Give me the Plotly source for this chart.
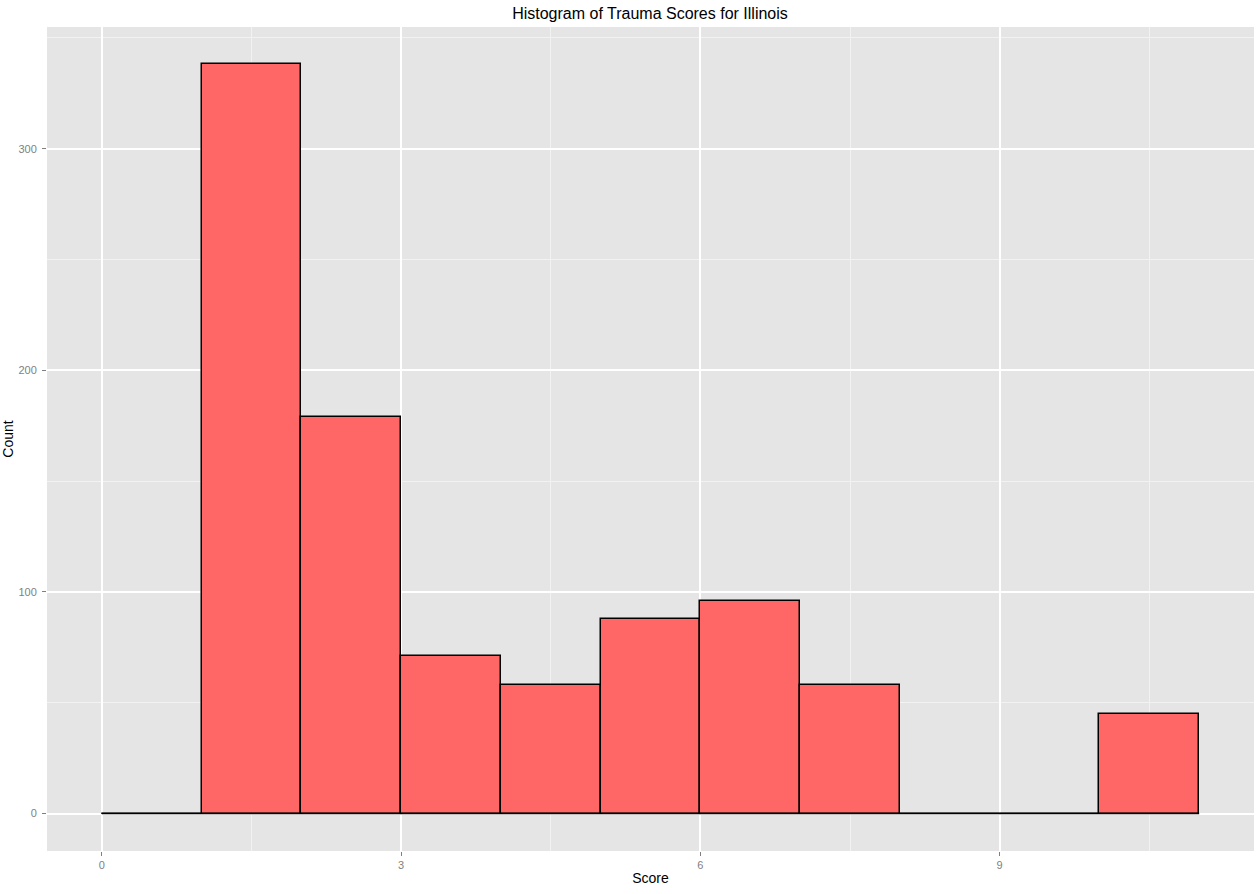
import plotly.graph_objects as go

# histogram bins (width 1) and counts
bin_left = [0, 1, 2, 3, 4, 5, 6, 7, 8, 9, 10]
counts = [0, 338, 179, 71, 58, 88, 96, 58, 0, 0, 45]
bin_width = 1

x_ticks = [0, 3, 6, 9]
y_ticks = [0, 100, 200, 300]

FONT = "Liberation Sans, Arial, sans-serif"
PANEL_BG = "#E5E5E5"
TICK_GREY = "#7F7F7F"

centers = [b + bin_width / 2 for b in bin_left]
x_lo, x_hi = bin_left[0], bin_left[-1] + bin_width
x_pad = 0.05 * (x_hi - x_lo)
y_pad = 0.05 * max(counts)

fig = go.Figure()

fig.add_trace(go.Bar(
    x=centers, y=counts, width=bin_width,
    marker=dict(color="#FF6666", line=dict(color="black", width=1.5)),
    showlegend=False,
))

# ggplot draws empty bins as flat outlines along zero
fig.add_trace(go.Scatter(
    x=[x_lo, x_hi], y=[0, 0], mode="lines",
    line=dict(color="black", width=1.5),
    showlegend=False, hoverinfo="skip",
))

fig.update_layout(
    width=1256, height=894,
    margin=dict(l=47, r=2, t=27, b=43),
    paper_bgcolor="white",
    plot_bgcolor=PANEL_BG,
    font=dict(family=FONT, color="black"),
    title=dict(text="Histogram of Trauma Scores for Illinois", x=0.5175, xanchor="center",
               y=1 - 13 / 894, yanchor="middle", font=dict(size=16, color="black")),
    bargap=0,
)

fig.update_xaxes(
    range=[x_lo - x_pad, x_hi + x_pad],
    tickvals=x_ticks, ticks="outside", ticklen=4, tickcolor=TICK_GREY,
    tickfont=dict(size=11, color=TICK_GREY),
    showgrid=True, gridcolor="white", gridwidth=1.5,
    minor=dict(dtick=1.5, tick0=0, showgrid=True, gridcolor="#F2F2F2", gridwidth=0.8),
    zeroline=False, showline=False, automargin=False,
    title=dict(text="Score", font=dict(size=14, color="black"), standoff=2),
)

fig.update_yaxes(
    range=[-y_pad, max(counts) + y_pad],
    tickvals=y_ticks, ticks="outside", ticklen=4, tickcolor=TICK_GREY,
    tickfont=dict(size=11, color=TICK_GREY), ticklabelstandoff=3,
    showgrid=True, gridcolor="white", gridwidth=1.5,
    minor=dict(dtick=50, tick0=0, showgrid=True, gridcolor="#F2F2F2", gridwidth=0.8),
    zeroline=False, showline=False, automargin=False,
    title=dict(text="Count", font=dict(size=14, color="black"), standoff=2),
)

# drop the default 8px page margin so the figure fills the window
fig.write_html("out.html", config={"displayModeBar": False},
               post_script="document.body.style.margin='0';")
